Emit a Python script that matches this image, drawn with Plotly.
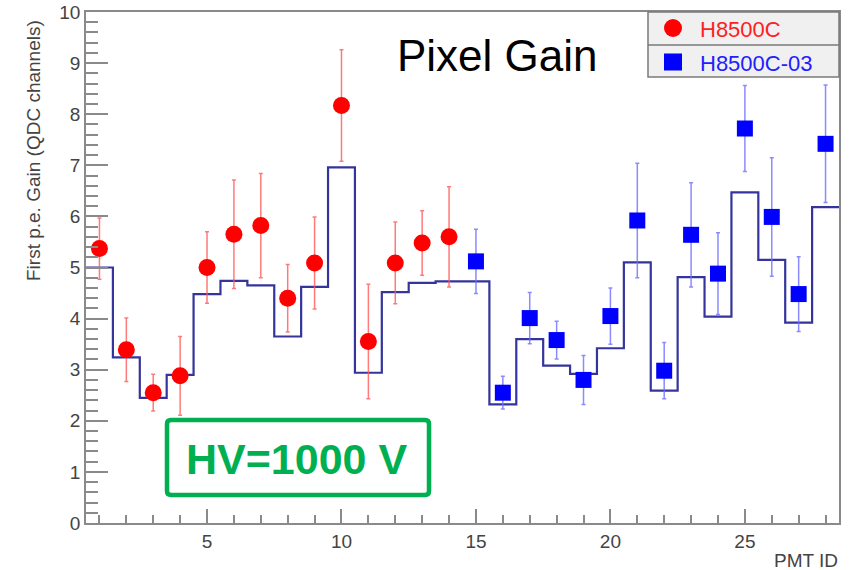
import plotly.graph_objects as go

# ---------------- data ----------------
pmt_red = list(range(1, 15))
gain_red = [5.37, 3.39, 2.55, 2.88, 5.00, 5.65, 5.82, 4.40, 5.09, 8.17, 3.55, 5.09, 5.48, 5.60]
err_red = [0.60, 0.62, 0.36, 0.77, 0.70, 1.06, 1.02, 0.66, 0.90, 1.09, 1.12, 0.80, 0.63, 0.98]

pmt_blue = list(range(15, 29))
gain_blue = [5.12, 2.55, 4.01, 3.58, 2.80, 4.05, 5.92, 2.98, 5.64, 4.88, 7.72, 5.99, 4.48, 7.42]
err_blue = [0.63, 0.32, 0.50, 0.37, 0.48, 0.55, 1.12, 0.55, 1.02, 0.80, 0.84, 1.16, 0.73, 1.15]

pmt_hist = list(range(1, 29))
gain_hist = [5.00, 3.24, 2.45, 2.90, 4.48, 4.74, 4.65, 3.65, 4.62, 6.96,
             2.94, 4.52, 4.70, 4.73, 4.73, 2.32, 3.60, 3.08, 2.92, 3.42,
             5.10, 2.59, 4.81, 4.04, 6.47, 5.15, 3.92, 6.18]

x_ticks = [5, 10, 15, 20, 25]
y_ticks = list(range(0, 11))

# ---------------- layout geometry (pixels) ----------------
W, H = 850, 570
PL, PR, PT, PB = 86, 839, 12, 523


def px(x):
    return (x - PL) / (PR - PL)


def py(y):
    return (PB - y) / (PB - PT)


# histogram steps built from bin centres
edges = [c - 0.5 for c in pmt_hist] + [pmt_hist[-1] + 0.5]
step_y = gain_hist + [gain_hist[-1]]

fig = go.Figure()

fig.add_trace(go.Scatter(
    x=edges, y=step_y, mode="lines", line_shape="hv",
    line=dict(color="#34349c", width=2.2), showlegend=False, hoverinfo="skip"))

fig.add_trace(go.Scatter(
    x=pmt_red, y=gain_red, mode="markers", name="H8500C",
    marker=dict(symbol="circle", size=17, color="#ff0000"),
    error_y=dict(type="data", array=err_red, color="rgba(255,90,90,0.8)",
                 thickness=1.5, width=2),
    showlegend=False))

fig.add_trace(go.Scatter(
    x=pmt_blue, y=gain_blue, mode="markers", name="H8500C-03",
    marker=dict(symbol="square", size=16, color="#0000ff"),
    error_y=dict(type="data", array=err_blue, color="rgba(110,110,255,0.8)",
                 thickness=1.5, width=2),
    showlegend=False))

axis_common = dict(
    showline=True, mirror=True, linecolor="#8a8a8a", linewidth=1.5,
    ticks="inside", tickcolor="#8a8a8a", tickwidth=1.5,
    showgrid=False, zeroline=False,
    tickfont=dict(family="Liberation Sans, Arial", size=19, color="#444444"),
)

fig.update_xaxes(
    range=[0.5, 28.5], tickvals=x_ticks, ticklen=14,
    minor=dict(ticks="inside", dtick=1, tick0=0, ticklen=8,
               tickcolor="#8a8a8a", tickwidth=1.5),
    **axis_common)
fig.update_yaxes(
    range=[0, 10], tickvals=y_ticks, ticklen=22,
    minor=dict(ticks="inside", dtick=0.2, tick0=0, ticklen=12,
               tickcolor="#8a8a8a", tickwidth=1.5),
    **axis_common)

shapes = []
annotations = []

# legend box
shapes.append(dict(type="rect", xref="paper", yref="paper",
                   x0=px(648), x1=px(839), y0=py(77), y1=py(12),
                   fillcolor="#f0f0f0", line=dict(color="#7a7a7a", width=1.5),
                   layer="above"))
shapes.append(dict(type="line", xref="paper", yref="paper",
                   x0=px(648), x1=px(839), y0=py(45), y1=py(45),
                   line=dict(color="#7a7a7a", width=1.5), layer="above"))
shapes.append(dict(type="circle", xref="paper", yref="paper",
                   xsizemode="pixel", ysizemode="pixel",
                   xanchor=px(673), yanchor=py(28),
                   x0=-9, x1=9, y0=-9, y1=9,
                   fillcolor="#ff0000", line=dict(width=0), layer="above"))
shapes.append(dict(type="rect", xref="paper", yref="paper",
                   xsizemode="pixel", ysizemode="pixel",
                   xanchor=px(673), yanchor=py(62),
                   x0=-9, x1=9, y0=-8.5, y1=8.5,
                   fillcolor="#0000ff", line=dict(width=0), layer="above"))
annotations.append(dict(text="H8500C", xref="paper", yref="paper",
                        x=px(698), y=py(29), xanchor="left", yanchor="middle",
                        showarrow=False,
                        font=dict(family="Liberation Sans, Arial", size=22, color="#ff2020")))
annotations.append(dict(text="H8500C-03", xref="paper", yref="paper",
                        x=px(698), y=py(63), xanchor="left", yanchor="middle",
                        showarrow=False,
                        font=dict(family="Liberation Sans, Arial", size=22, color="#2020ff")))

# title
annotations.append(dict(text="Pixel Gain", xref="paper", yref="paper",
                        x=px(498), y=py(55), xanchor="center", yanchor="middle",
                        showarrow=False,
                        font=dict(family="Liberation Sans, Arial", size=44, color="#000000")))

# green HV box (rounded corners)
bx0, bx1, by0, by1, r = 167, 429, 420, 495, 4
green_path = (
    f"M {px(bx0 + r)},{py(by0)} L {px(bx1 - r)},{py(by0)} "
    f"Q {px(bx1)},{py(by0)} {px(bx1)},{py(by0 + r)} "
    f"L {px(bx1)},{py(by1 - r)} Q {px(bx1)},{py(by1)} {px(bx1 - r)},{py(by1)} "
    f"L {px(bx0 + r)},{py(by1)} Q {px(bx0)},{py(by1)} {px(bx0)},{py(by1 - r)} "
    f"L {px(bx0)},{py(by0 + r)} Q {px(bx0)},{py(by0)} {px(bx0 + r)},{py(by0)} Z"
)
shapes.append(dict(type="path", xref="paper", yref="paper", path=green_path,
                   fillcolor="rgba(255,255,255,0)",
                   line=dict(color="#00b050", width=4.5), layer="above"))
annotations.append(dict(text="<b>HV=1000 V</b>", xref="paper", yref="paper",
                        x=px(296), y=py(459), xanchor="center", yanchor="middle",
                        showarrow=False,
                        font=dict(family="Liberation Sans, Arial", size=43, color="#00b050")))

# axis titles
annotations.append(dict(text="First p.e. Gain (QDC channels)", xref="paper", yref="paper",
                        x=px(33), y=py(151), xanchor="center", yanchor="middle",
                        textangle=-90, showarrow=False,
                        font=dict(family="Liberation Sans, Arial", size=19, color="#444444")))
annotations.append(dict(text="PMT ID", xref="paper", yref="paper",
                        x=px(840), y=py(560), xanchor="right", yanchor="middle",
                        showarrow=False,
                        font=dict(family="Liberation Sans, Arial", size=19, color="#444444")))

fig.update_layout(
    width=W, height=H,
    margin=dict(l=PL, r=W - PR, t=PT, b=H - PB, autoexpand=False),
    paper_bgcolor="white", plot_bgcolor="white",
    shapes=shapes, annotations=annotations, showlegend=False,
)

fig.write_html("out.html")
